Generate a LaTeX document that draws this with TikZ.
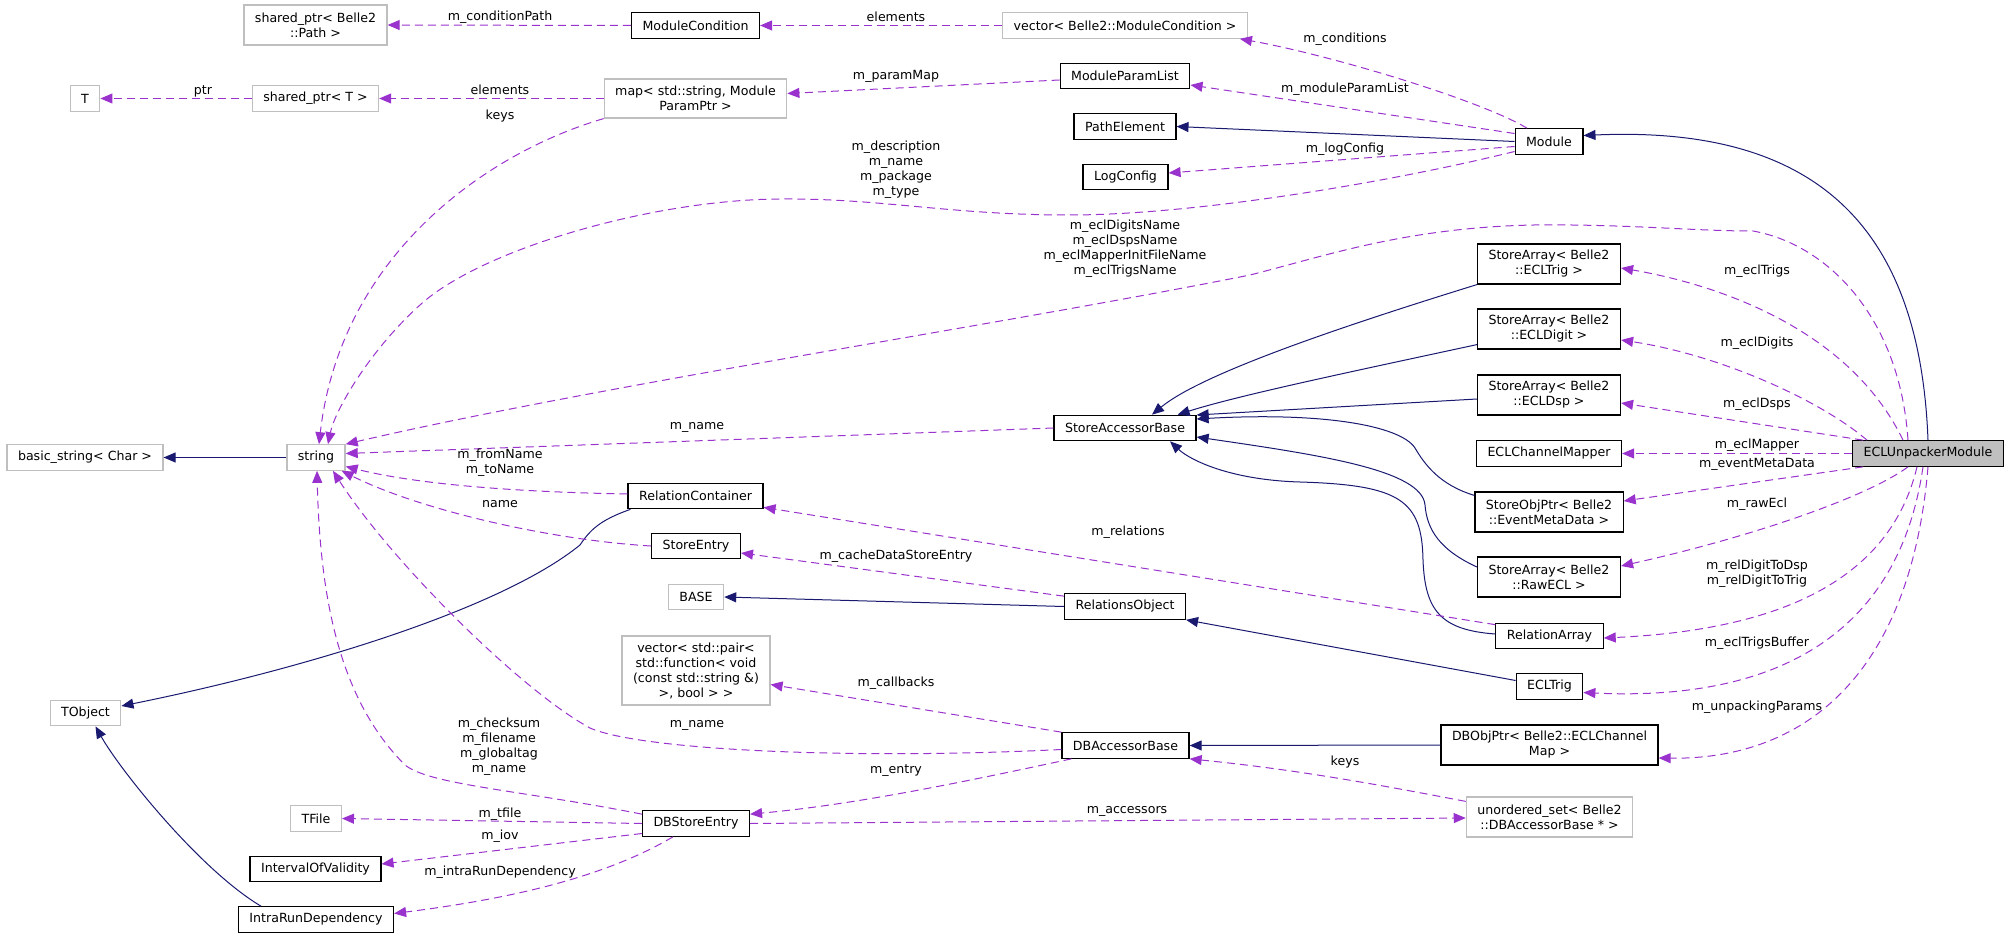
\documentclass[tikz,border=0pt]{standalone}
\usepackage{fontspec}
\setmainfont{DejaVu Sans}
\usetikzlibrary{arrows.meta,calc}
\definecolor{edgeblue}{RGB}{25,25,112}
\definecolor{edgepurple}{RGB}{154,50,205}
\definecolor{boxgray}{RGB}{191,191,191}
\newcommand{\dgfont}{\fontsize{12.6}{15}\selectfont}
\tikzset{
>={Triangle[length=12pt,width=10pt]},
every node/.style={font=\dgfont},
cls/.style={draw=black, line width=1.2pt, fill=white, inner xsep=11pt, inner ysep=2pt, minimum height=25.5pt, align=center},
ext/.style={cls, draw=boxgray},
focus/.style={cls, fill=boxgray},
two/.style={minimum height=40pt},
inh/.style={->, draw=edgeblue, line width=1pt},
use/.style={->, draw=edgepurple, line width=1pt, dash pattern=on 8pt off 5pt},
lbl/.style={inner sep=0pt, align=center},
}

\begin{document}
\begin{tikzpicture}[x=1pt,y=-1pt]
\useasboundingbox (0,0) rectangle (2011,939);

    \node[ext] (tnode) at (85,98.5) {T};
    \node[ext] (bstr) at (85,457.5) {basic\_string< Char >};
    \node[ext] (tobj) at (85.5,713) {TObject};

    \node[ext,two] (pathp) at (315.5,25) {shared\_ptr< Belle2\\::Path >};
    \node[ext] (sptr) at (315.5,98.5) {shared\_ptr< T >};
    \node[ext] (str) at (316,457.5) {string};
    \node[ext] (tfile) at (316,818.5) {TFile};
    \node[cls] (iov) at (315.5,869) {IntervalOfValidity};
    \node[cls] (irdep) at (316,919.5) {IntraRunDependency};

    \node[cls] (mcond) at (695.5,25.5) {ModuleCondition};
    \node[ext,minimum height=39pt] (pmap) at (695.5,98.5) {map< std::string, Module\\ParamPtr >};
    \node[cls] (relc) at (695.5,496) {RelationContainer};
    \node[cls] (sentry) at (696,546) {StoreEntry};
    \node[ext] (base) at (696,597) {BASE};
    \node[ext,minimum height=69pt] (vpair) at (696,670.5) {vector< std::pair<\\ std::function< void\\(const std::string \&)\\>, bool > >};
    \node[cls] (dbse) at (696,823.5) {DBStoreEntry};

    \node[ext] (vcond) at (1125,25.5) {vector< Belle2::ModuleCondition >};
    \node[cls] (mpl) at (1125,76) {ModuleParamList};
    \node[cls] (pelem) at (1125,126.5) {PathElement};
    \node[cls] (logc) at (1125.5,177) {LogConfig};
    \node[cls] (sab) at (1125,428) {StoreAccessorBase};
    \node[cls] (relobj) at (1125,606.5) {RelationsObject};
    \node[cls] (dbab) at (1125.5,745.5) {DBAccessorBase};

    \node[cls] (module) at (1549,141.5) {Module};
    \node[cls,two] (satrig) at (1549,264) {StoreArray< Belle2\\::ECLTrig >};
    \node[cls,two] (sadigit) at (1549,329) {StoreArray< Belle2\\::ECLDigit >};
    \node[cls,two] (sadsp) at (1549,395) {StoreArray< Belle2\\::ECLDsp >};
    \node[cls] (mapper) at (1549,453.5) {ECLChannelMapper};
    \node[cls,two] (soptr) at (1549,512) {StoreObjPtr< Belle2\\::EventMetaData >};
    \node[cls,two] (saraw) at (1549,577) {StoreArray< Belle2\\::RawECL >};
    \node[cls] (relarr) at (1549.5,636) {RelationArray};
    \node[cls] (ecltrig) at (1549.5,686.5) {ECLTrig};
    \node[cls,two] (dbobj) at (1549.5,745) {DBObjPtr< Belle2::ECLChannel\\Map >};
    \node[ext,two] (uset) at (1549.5,817) {unordered\_set< Belle2\\::DBAccessorBase * >};

    \node[focus] (ecl) at (1928,453.5) {ECLUnpackerModule};

    \draw[inh] (ecl.north) .. controls (1920,230) and (1820,125) .. ($(module.east)+(0,-6)$);
    \draw[inh] (module.west) -- (pelem.east);
    \draw[inh] (satrig.south west) .. controls (1330,330) and (1200,375) .. ($(sab.north)+(27,0)$);
    \draw[inh] ($(sadigit.south west)+(0,-5)$) .. controls (1350,372) and (1240,395) .. ($(sab.north east)+(-19,0)$);
    \draw[inh] ($(sadsp.west)+(0,4)$) -- ($(sab.east)+(0,-13)$);
    \draw[inh] ($(soptr.north west)+(0,4)$) .. controls (1440,485) and (1425,465) .. (1415,448) .. controls (1400,425) and (1320,412) .. ($(sab.east)+(0,-9)$);
    \draw[inh] ($(saraw.west)+(0,-10)$) .. controls (1440,550) and (1427,530) .. (1425,505) .. controls (1422,470) and (1320,455) .. ($(sab.east)+(0,9)$);
    \draw[inh] ($(relarr.west)+(0,-2)$) .. controls (1440,630) and (1425,610) .. (1423,560) .. controls (1422,500) and (1400,485) .. (1300,482) .. controls (1230,480) and (1190,460) .. ($(sab.south)+(45,0)$);
    \draw[inh] ($(ecltrig.west)+(0,-6)$) -- (relobj.south east);
    \draw[inh] (relobj.west) -- (base.east);
    \draw[inh] ($(relc.south west)+(3,0)$) .. controls (600,520) and (590,530) .. (580,545) .. controls (500,610) and (300,670) .. ($(tobj.east)+(0,-7)$);
    \draw[inh] ($(irdep.north)+(-55,0)$) .. controls (200,870) and (120,770) .. ($(tobj.south)+(10,0)$);
    \draw[inh] (dbobj.west) -- (dbab.east);
    \draw[inh] (str.west) -- (bstr.east);

    \draw[use] (mcond.west) -- (pathp.east);
    \draw[use] (vcond.west) -- (mcond.east);
    \draw[use] ($(module.north)+(-22,0)$) .. controls (1480,100) and (1330,55) .. ($(vcond.south east)+(-8,0)$);
    \draw[use] ($(module.west)+(0,-8)$) -- ($(mpl.east)+(0,9)$);
    \draw[use] ($(module.west)+(0,5)$) -- ($(logc.east)+(0,-4)$);
    \draw[use] ($(module.west)+(0,10)$) .. controls (1400,180) and (1200,215) .. (1069,215) .. controls (950,215) and (880,198) .. (779,199) .. controls (650,200) and (480,250) .. (420,305) .. controls (370,350) and (335,410) .. ($(str.north)+(12,0)$);
    \draw[use] (pmap.south west) .. controls (480,155) and (340,260) .. ($(str.north)+(3,0)$);
    \draw[use] (pmap.west) -- (sptr.east);
    \draw[use] (sptr.west) -- (tnode.east);
    \draw[use] ($(mpl.west)+(0,4)$) -- ($(pmap.east)+(0,-5)$);
    \draw[use] ($(ecl.north)+(-20,0)$) .. controls (1900,320) and (1830,245) .. (1753,231) .. controls (1700,231) and (1650,226) .. (1572,225) .. controls (1420,222) and (1330,255) .. (1250,275) .. controls (1000,325) and (600,385) .. (str.north east);
    \draw[use] ($(ecl.north)+(-25,0)$) .. controls (1850,330) and (1720,285) .. ($(satrig.east)+(0,4)$);
    \draw[use] ($(ecl.north)+(-61,0)$) .. controls (1820,400) and (1720,355) .. ($(sadigit.east)+(0,11)$);
    \draw[use] ($(ecl.north west)+(11,0)$) -- ($(sadsp.east)+(0,8)$);
    \draw[use] (ecl.west) -- (mapper.east);
    \draw[use] ($(ecl.south west)+(11,0)$) -- ($(soptr.east)+(0,-11)$);
    \draw[use] ($(ecl.south)+(-20,0)$) .. controls (1870,495) and (1760,535) .. ($(saraw.east)+(0,-11)$);
    \draw[use] ($(ecl.south)+(-11,0)$) .. controls (1890,580) and (1780,630) .. ($(relarr.east)+(0,2)$);
    \draw[use] ($(ecl.south)+(-5,0)$) .. controls (1895,660) and (1740,700) .. ($(ecltrig.east)+(0,6)$);
    \draw[use] (ecl.south) .. controls (1910,680) and (1800,760) .. ($(dbobj.east)+(0,13)$);
    \draw[use] (sab.west) -- ($(str.east)+(0,-4)$);
    \draw[use] ($(relc.west)+(0,-2)$) .. controls (520,492) and (420,485) .. ($(str.east)+(0,9)$);
    \draw[use] (sentry.west) .. controls (550,540) and (420,510) .. ($(str.south east)+(-4,0)$);
    \draw[use] ($(relarr.north west)+(0,2)$) -- ($(relc.south east)+(0,-2)$);
    \draw[use] ($(relobj.north west)+(0,3)$) -- ($(sentry.east)+(0,7)$);
    \draw[use] (dbab.north west) -- ($(vpair.east)+(0,14)$);
    \draw[use] ($(dbab.west)+(0,4)$) .. controls (850,760) and (640,750) .. (590,728) .. controls (520,690) and (390,560) .. ($(str.south)+(17,0)$);
    \draw[use] ($(dbse.north west)+(0,4)$) .. controls (520,790) and (430,785) .. (405,765) .. controls (340,700) and (320,600) .. ($(str.south)+(1,0)$);
    \draw[use] ($(dbab.south west)+(10,0)$) .. controls (950,785) and (850,805) .. ($(dbse.north east)+(0,4)$);
    \draw[use] (dbse.east) -- ($(uset.west)+(0,1)$);
    \draw[use] ($(uset.north west)+(0,5)$) .. controls (1380,785) and (1300,770) .. (dbab.south east);
    \draw[use] (dbse.west) -- (tfile.east);
    \draw[use] ($(dbse.west)+(0,10)$) -- ($(iov.east)+(0,-5)$);
    \draw[use] ($(dbse.south west)+(31,0)$) .. controls (600,880) and (500,900) .. ($(irdep.east)+(0,-6)$);

    \node[lbl] (lCondPath) at (500,17) {m\_conditionPath};
    \node[lbl] (lElemA) at (896,17) {elements};
    \node[lbl] (lConditions) at (1345,39) {m\_conditions};
    \node[lbl] (lPtr) at (203,91) {ptr};
    \node[lbl] (lElemB) at (500,90) {elements};
    \node[lbl] (lKeysA) at (500,116) {keys};
    \node[lbl] (lParamMap) at (896,76) {m\_paramMap};
    \node[lbl] (lModParam) at (1345,89) {m\_moduleParamList};
    \node[lbl] (lLogCfg) at (1345,149) {m\_logConfig};
    \node[lbl] (lDescr) at (896,170) {m\_description\\m\_name\\m\_package\\m\_type};
    \node[lbl] (lNames) at (1125,249) {m\_eclDigitsName\\m\_eclDspsName\\m\_eclMapperInitFileName\\m\_eclTrigsName};
    \node[lbl] (lTrigs) at (1757,271) {m\_eclTrigs};
    \node[lbl] (lDigits) at (1757,343) {m\_eclDigits};
    \node[lbl] (lDsps) at (1757,404) {m\_eclDsps};
    \node[lbl] (lMapper) at (1757,445) {m\_eclMapper};
    \node[lbl] (lEvtMeta) at (1757,464) {m\_eventMetaData};
    \node[lbl] (lRaw) at (1757,504) {m\_rawEcl};
    \node[lbl] (lRel) at (1757,574) {m\_relDigitToDsp\\m\_relDigitToTrig};
    \node[lbl] (lTrigBuf) at (1757,643) {m\_eclTrigsBuffer};
    \node[lbl] (lUnpack) at (1757,707) {m\_unpackingParams};
    \node[lbl] (lKeysB) at (1345,762) {keys};
    \node[lbl] (lName) at (697,427) {m\_name};
    \node[lbl] (lFromTo) at (500,463) {m\_fromName\\m\_toName};
    \node[lbl] (lNameB) at (500,504) {name};
    \node[lbl] (lRelations) at (1128,532) {m\_relations};
    \node[lbl] (lCache) at (896,556) {m\_cacheDataStoreEntry};
    \node[lbl] (lCallbacks) at (896,683) {m\_callbacks};
    \node[lbl] (lNameC) at (697,725) {m\_name};
    \node[lbl] (lEntry) at (896,771) {m\_entry};
    \node[lbl] (lAccessors) at (1127,811) {m\_accessors};
    \node[lbl] (lChecksum) at (499,747) {m\_checksum\\m\_filename\\m\_globaltag\\m\_name};
    \node[lbl] (lTfile) at (500,814) {m\_tfile};
    \node[lbl] (lIov) at (500,836) {m\_iov};
    \node[lbl] (lIntra) at (500,872) {m\_intraRunDependency};

\end{tikzpicture}
\end{document}
